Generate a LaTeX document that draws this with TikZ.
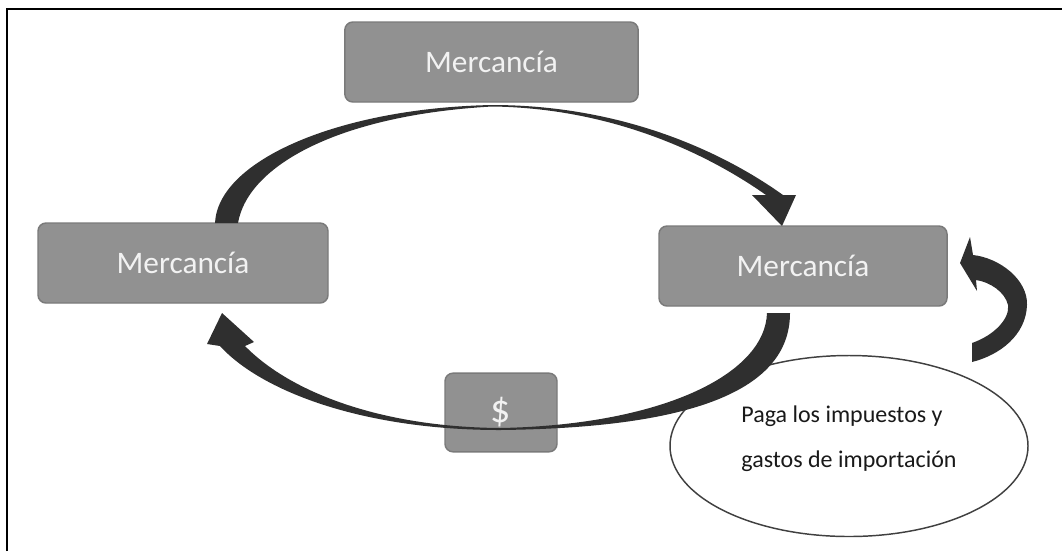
\documentclass[tikz,border=0pt]{standalone}
\usepackage{fontspec}
\setmainfont{Carlito}
\usepackage{tikz}
\usetikzlibrary{shapes.geometric}

\definecolor{boxgray}{HTML}{919191}
\definecolor{boxedge}{HTML}{7A7A7A}
\definecolor{arrowdark}{HTML}{2F2F2F}

\begin{document}
\begin{tikzpicture}[x=0.75pt, y=-0.75pt, every node/.style={font=\fontsize{23.5}{27}\selectfont},
  caja/.style={draw=boxedge, line width=1.1pt, fill=boxgray, rounded corners=6pt, text=white!95!black, minimum height=60pt, inner sep=0pt}]
  \useasboundingbox (0,0) rectangle (1062,551);
  \draw[line width=1.5pt] (7,551) -- (7,8.5) -- (1062,8.5);
  \node[caja, minimum width=220pt] (arriba) at (491.5,62) {Mercancía};
  \node[caja, minimum width=217.5pt] (izq) at (183,263) {Mercancía};
  \node[caja, minimum width=216pt] (der) at (803,266) {Mercancía};
  \node[caja, minimum width=84pt, minimum height=59pt, font=\fontsize{30}{32}\selectfont] (pago) at (501,412.5) {\$};
  \node[ellipse, draw=black!75, line width=1.1pt, minimum width=268.5pt, minimum height=135.75pt, align=left, text=black!90, text depth=14pt, font=\fontsize{18}{34}\selectfont] (impuestos) at (849,446) {Paga los impuestos y\\gastos de importación};
  \fill[arrowdark] (215,223) .. controls (218,160) and (340,108) .. (492,105)
    .. controls (620,105) and (720,150) .. (783,195) -- (796,195) -- (782,226) -- (752,195) -- (766,195)
    .. controls (705,152) and (610,108) .. (492,106.5)
    .. controls (340,115) and (248,165) .. (238,223) -- cycle;
  \fill[arrowdark] (767,313) -- (790,313) .. controls (790,395) and (680,428) .. (500,430)
    .. controls (360,430) and (260,390) .. (220,346) -- (207,344) -- (222,313) -- (254,342) -- (245,346)
    .. controls (290,392) and (380,427) .. (500,428)
    .. controls (660,425) and (765,375) .. (767,313) -- cycle;
  \fill[arrowdark] (972,343) .. controls (995,335) and (1010,318) .. (1008,305)
    .. controls (1005,292) and (990,282) .. (976,280) -- (977,291) -- (960,263) -- (970,237) -- (973,255)
    .. controls (1000,258) and (1028,280) .. (1027,305)
    .. controls (1026,335) and (1000,355) .. (972,362) -- cycle;
\end{tikzpicture}
\end{document}
